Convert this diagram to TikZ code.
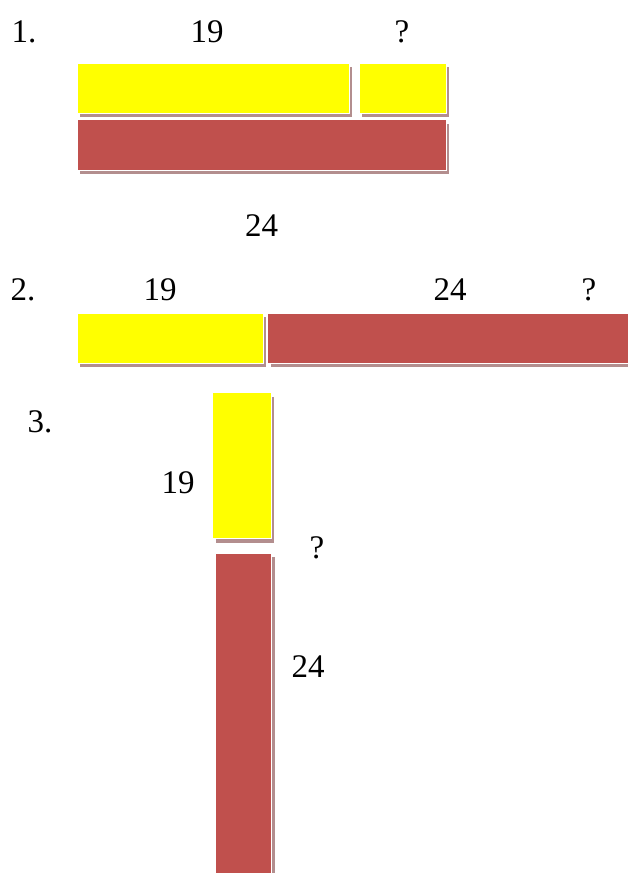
\documentclass[tikz,border=0pt]{standalone}
\usepackage{fontspec}
\setmainfont{Liberation Serif}
\usetikzlibrary{shadows}
\definecolor{barred}{HTML}{C0504D}
\definecolor{baryellow}{HTML}{FFFF00}
\definecolor{shadowc}{HTML}{B38E8E}
\tikzset{
  barbase/.style={anchor=north west, inner sep=0pt, outer sep=0pt, draw=white, line width=0.8pt,
    drop shadow={shadow xshift=3pt, shadow yshift=-4pt, fill=shadowc, opacity=1}},
  ybar/.style={barbase, fill=baryellow},
  rbar/.style={barbase, fill=barred},
  lbl/.style={anchor=base, inner sep=0pt, font=\fontsize{33}{36}\selectfont}
}
\begin{document}
\begin{tikzpicture}[x=1pt,y=1pt]
\useasboundingbox (0,0) rectangle (628,-873);
% row 1
\node[lbl] (n1) at (24,-42.7) {1.};
\node[lbl] (t19a) at (207,-42.7) {19};
\node[lbl] (qa) at (402,-42.7) {?};
\node[ybar, minimum width=272pt, minimum height=50pt] (y1) at (77,-63) {};
\node[ybar, minimum width=87pt, minimum height=50pt] (y2) at (359,-63) {};
\node[rbar, minimum width=369pt, minimum height=50.5pt] (r1) at (77,-119.5) {};
\node[lbl] (t24a) at (261.5,-236) {24};
% row 2
\node[lbl] (n2) at (23,-300.7) {2.};
\node[lbl] (t19b) at (160,-300.7) {19};
\node[lbl] (t24b) at (450,-300.7) {24};
\node[lbl] (qb) at (589,-300.7) {?};
\node[ybar, minimum width=186pt, minimum height=50pt] (y3) at (77,-313.3) {};
\node[rbar, minimum width=361pt, minimum height=50pt] (r2) at (267.5,-313.3) {};
% row 3
\node[lbl] (n3) at (40,-432) {3.};
\node[ybar, minimum width=58.6pt, minimum height=146pt] (y4) at (212.7,-392.7) {};
\node[rbar, minimum width=56.4pt, minimum height=330pt] (r3) at (215.3,-553.3) {};
\node[lbl] (t19c) at (178,-493.3) {19};
\node[lbl] (qc) at (317,-558) {?};
\node[lbl] (t24c) at (308,-677.3) {24};
\end{tikzpicture}
\end{document}
